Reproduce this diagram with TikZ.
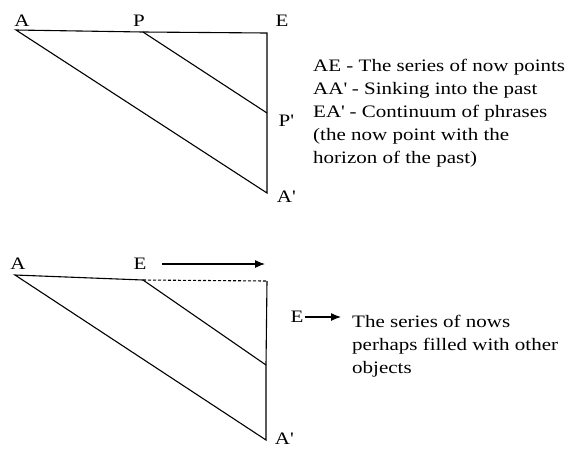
\documentclass[tikz,border=0pt]{standalone}
\usepackage{fontspec}
\setmainfont[FakeStretch=1.2]{Liberation Serif}
\usetikzlibrary{arrows.meta}
\newcommand{\pr}{\textquotesingle}

\begin{document}
\begin{tikzpicture}[x=1pt,y=-1pt,
    edge/.style={line width=1.1pt},
    move/.style={line width=1.1pt, -{Latex[length=10pt,width=8pt]}},
    lbl/.style={font=\fontsize{17.5}{23}\selectfont, inner sep=0pt},
    notes/.style={font=\fontsize{17.5}{23}\selectfont, inner sep=0pt, align=left, anchor=north west}]
    \useasboundingbox (0,0) rectangle (567,451);

    % Upper triangle
    \coordinate (A) at (16,30);
    \coordinate (P) at (143,32);
    \coordinate (E) at (267,33);
    \coordinate (Pp) at (267,113);
    \coordinate (Ap) at (267,193);
    \draw[edge] (A) -- (P) -- (E) -- (Pp) -- (Ap) -- cycle;
    \draw[edge] (P) -- (Pp);

    \node[lbl] (lA) at (22,21) {A};
    \node[lbl] (lP) at (139,21) {P};
    \node[lbl] (lE) at (282,21) {E};
    \node[lbl] (lPp) at (286,121) {P\pr};
    \node[lbl] (lAp) at (286,197) {A\pr};

    % Legend
    \node[notes] (legend) at (313,59) {AE - The series of now points\\
        AA\pr{} - Sinking into the past\\
        EA\pr{} - Continuum of phrases\\
        (the now point with the\\
        horizon of the past)};

    % Lower triangle
    \coordinate (B) at (15,275);
    \coordinate (F) at (143,280);
    \coordinate (C) at (267,281);
    \coordinate (Q) at (266,365);
    \coordinate (Bp) at (266,440);
    \draw[edge] (F) -- (B) -- (Bp) -- (Q) -- (C);
    \draw[edge] (F) -- (Q);
    \draw[edge, dashed, dash pattern=on 3pt off 2pt] (F) -- (C);

    \node[lbl] (lB) at (18,264) {A};
    \node[lbl] (lF) at (140,264) {E};
    \node[lbl] (lBp) at (284,439) {A\pr};

    % Moving now
    \coordinate (m1) at (162,264);
    \coordinate (m2) at (265,264);
    \draw[move] (m1) -- (m2);

    \node[lbl] (lE2) at (297,317) {E};
    \coordinate (n2) at (341,317);
    \draw[move] (lE2.east) ++(1,0) -- (n2);

    \node[notes] (nows) at (352,315) {The series of nows\\
        perhaps filled with other\\
        objects};
\end{tikzpicture}
\end{document}
